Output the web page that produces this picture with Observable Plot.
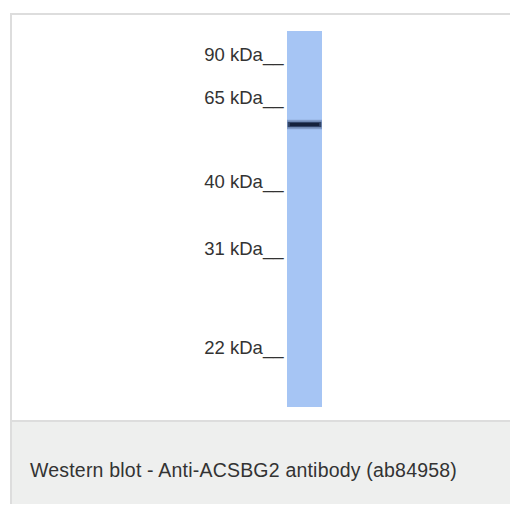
<!DOCTYPE html>
<html>
<head>
<meta charset="utf-8">
<script src="https://cdn.jsdelivr.net/npm/d3@7"></script>
<script src="https://cdn.jsdelivr.net/npm/@observablehq/plot@0.6"></script>
<style>
html, body { margin: 0; padding: 0; background: #fff; width: 510px; height: 506px; overflow: hidden; }
#frame { position: absolute; left: 10px; top: 13px; width: 520px; border-left: 2px solid #dddddd; border-top: 2px solid #dddddd; }
#chart svg { display: block; }
#caption { border-top: 2px solid #dddddd; background: #eeefee; height: 84px; box-sizing: border-box;
  padding: 37px 0 0 18px; font: 19.5px "Liberation Sans", Arial, sans-serif; letter-spacing: 0.2px; line-height: 22px; color: #333; white-space: nowrap; }
</style>
</head>
<body>
<div id="frame">
  <div id="chart"></div>
  <div id="caption"></div>
</div>
<script>
// Molecular weight markers (kDa) and their labels
const markers = [90, 65, 40, 31, 22];
const markerLabels = ["90 kDa__", "65 kDa__", "40 kDa__", "31 kDa__", "22 kDa__"];
// Lane extent (kDa) and detected band (kDa)
const laneRange = [107, 17];
const bandKDa = [58.6];
const captionText = "Western blot - Anti-ACSBG2 antibody (ab84958)";

const markerRows = markers.map((m, i) => ({kDa: m, label: markerLabels[i]}));
const lane = [{top: laneRange[0], bottom: laneRange[1]}];
const bands = bandKDa.map(k => ({kDa: k}));

const chart = Plot.plot({
  width: 498,
  height: 405,
  marginLeft: 275,
  marginRight: 188,
  marginTop: 0,
  marginBottom: 0,
  style: {fontFamily: "'Liberation Sans', Arial, sans-serif", background: "#fff"},
  x: {domain: [0, 1], axis: null},
  y: {type: "linear", domain: [107, 90, 65, 40, 31, 22, 17], range: [16, 45, 88, 172, 239, 338, 392], axis: null},
  marks: [
    Plot.rect(lane, {x1: () => 0, x2: () => 1, y1: "top", y2: "bottom", fill: "#a6c5f4"}),
    Plot.rect(bands, {x1: () => 0, x2: () => 1, y1: d => d.kDa + 1.4, y2: d => d.kDa - 1.4, fill: "#2a3d60", fillOpacity: 0.3}),
    Plot.rect(bands, {x1: () => 0.02, x2: () => 0.98, y1: d => d.kDa + 0.8, y2: d => d.kDa - 0.8, fill: "#1f2f50", fillOpacity: 0.8}),
    Plot.rect(bands, {x1: () => 0.08, x2: () => 0.92, y1: d => d.kDa + 0.45, y2: d => d.kDa - 0.45, fill: "#15213b"}),
    Plot.text(markerRows, {x: () => 0, y: "kDa", text: "label", textAnchor: "end", lineAnchor: "bottom", dx: -4, fontSize: 18.5, fill: "#333"})
  ]
});
document.getElementById("chart").appendChild(chart);
document.getElementById("caption").textContent = captionText;
</script>
</body>
</html>
